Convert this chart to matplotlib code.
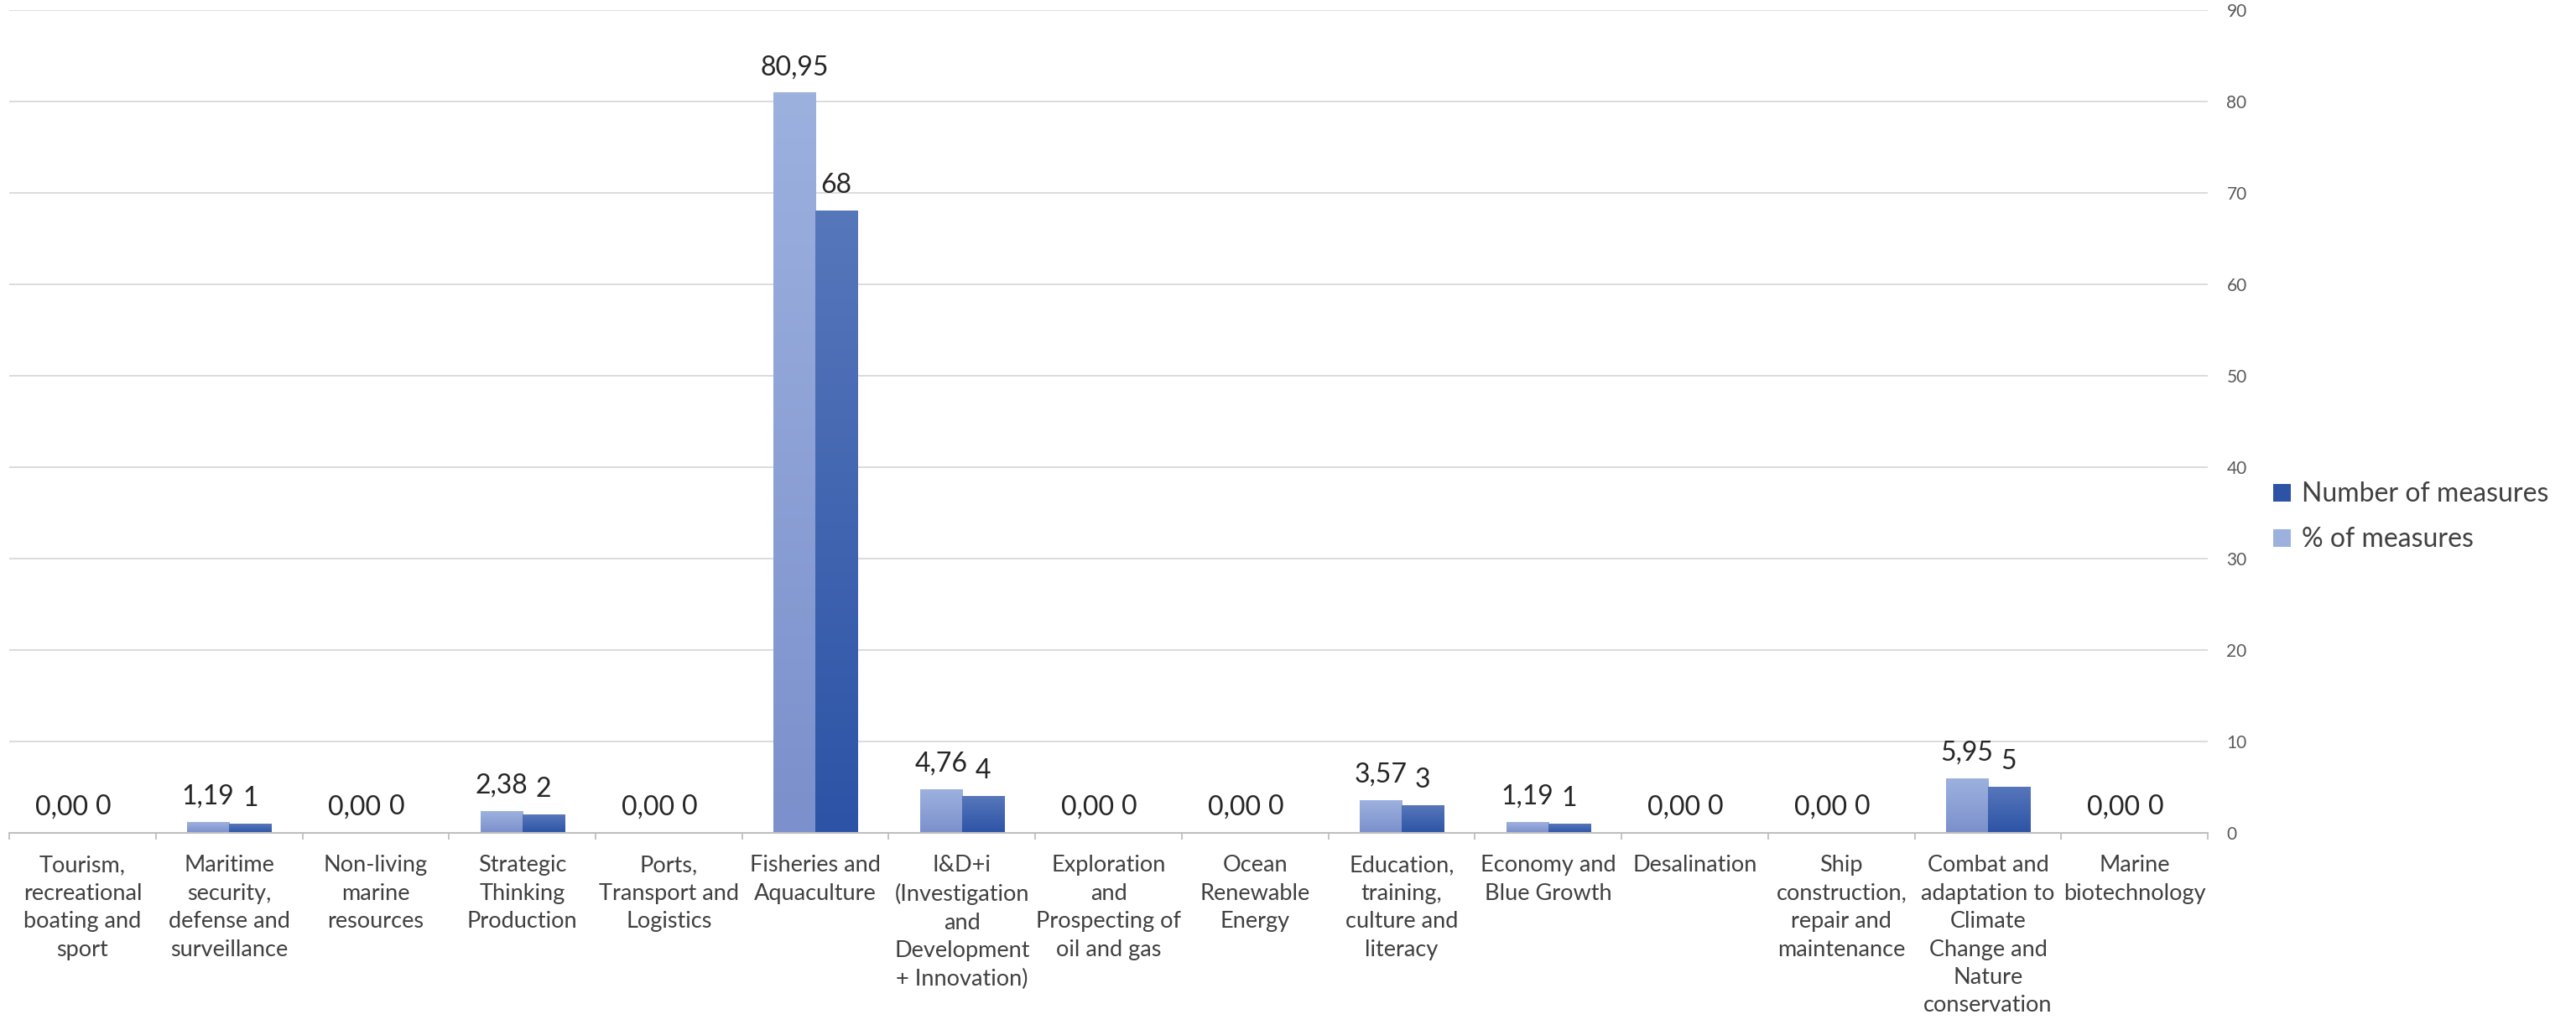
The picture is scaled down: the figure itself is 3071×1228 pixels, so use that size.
import numpy as np
import matplotlib
matplotlib.use("Agg")
import matplotlib.pyplot as plt
from matplotlib.patches import Patch
from matplotlib.colors import LinearSegmentedColormap

plt.rcParams['font.family'] = ['Lato', 'DejaVu Sans']

# data
categories = [
    "Tourism,\nrecreational\nboating and\nsport",
    "Maritime\nsecurity,\ndefense and\nsurveillance",
    "Non-living\nmarine\nresources",
    "Strategic\nThinking\nProduction",
    "Ports,\nTransport and\nLogistics",
    "Fisheries and\nAquaculture",
    "I&D+i\n(Investigation\nand\nDevelopment\n+ Innovation)",
    "Exploration\nand\nProspecting of\noil and gas",
    "Ocean\nRenewable\nEnergy",
    "Education,\ntraining,\nculture and\nliteracy",
    "Economy and\nBlue Growth",
    "Desalination",
    "Ship\nconstruction,\nrepair and\nmaintenance",
    "Combat and\nadaptation to\nClimate\nChange and\nNature\nconservation",
    "Marine\nbiotechnology",
]
pct_measures = [0.00, 1.19, 0.00, 2.38, 0.00, 80.95, 4.76, 0.00, 0.00, 3.57, 1.19, 0.00, 0.00, 5.95, 0.00]
num_measures = [0, 1, 0, 2, 0, 68, 4, 0, 0, 3, 1, 0, 0, 5, 0]
y_ticks = list(range(0, 100, 10))

light_top, light_bot = "#9db1df", "#7b90cc"
dark_top, dark_bot = "#5777bb", "#2c53a6"

fig = plt.figure(figsize=(30.71, 12.28), dpi=100)
ax = fig.add_axes([0.0036, 0.1914, 0.8535, 0.7988])

x = np.arange(len(categories))
w = 0.2865

bars_pct = ax.bar(x - w / 2, pct_measures, w, color=light_top, zorder=2)
bars_num = ax.bar(x + w / 2, num_measures, w, color=dark_top, zorder=2)


# vertical gradient fill for each bar, like the original
def gradient_fill(bars, top, bot):
    cmap = LinearSegmentedColormap.from_list("g", [bot, top])
    grad = np.linspace(0, 1, 256).reshape(-1, 1)
    for b in bars:
        h = b.get_height()
        if h <= 0:
            continue
        bx, bw = b.get_x(), b.get_width()
        ax.imshow(grad, cmap=cmap, aspect="auto", origin="lower",
                  extent=[bx, bx + bw, 0, h], zorder=2.5)
        b.set_facecolor("none")


gradient_fill(bars_pct, light_top, light_bot)
gradient_fill(bars_num, dark_top, dark_bot)

# data labels
for b, v in zip(bars_pct, pct_measures):
    ax.annotate(f"{v:.2f}".replace(".", ","), (b.get_x() + b.get_width() / 2, v),
                xytext=(0, 15.5), textcoords="offset points", ha="center",
                va="baseline", fontsize=23, color="#262626")
for b, v in zip(bars_num, num_measures):
    ax.annotate(f"{v}", (b.get_x() + b.get_width() / 2, v),
                xytext=(0, 15.5), textcoords="offset points", ha="center",
                va="baseline", fontsize=23, color="#262626")

ax.set_xlim(-0.5, len(categories) - 0.5)
ax.set_ylim(0, 90)

# y axis on the right, gridlines only
ax.yaxis.tick_right()
ax.set_yticks(y_ticks)
ax.tick_params(axis="y", length=0, pad=16, labelsize=15, labelcolor="#595959")
ax.grid(axis="y", color="#d9d9d9", linewidth=1.3, zorder=0)
ax.set_axisbelow(True)

# category labels centred, tick marks between categories
ax.set_xticks(x)
ax.set_xticklabels(categories, fontsize=19.5, color="#404040", linespacing=1.42)
ax.set_xticks(np.arange(-0.5, len(categories)), minor=True)
ax.tick_params(axis="x", which="major", length=0, pad=19)
ax.tick_params(axis="x", which="minor", length=6, width=1.3, color="#bfbfbf", direction="out")

for s in ["top", "left", "right"]:
    ax.spines[s].set_visible(False)
ax.spines["bottom"].set_color("#bfbfbf")
ax.spines["bottom"].set_linewidth(1.5)

handles = [Patch(facecolor=dark_bot, edgecolor="none"),
           Patch(facecolor=light_top, edgecolor="none")]
fig.legend(handles, ["Number of measures", "% of measures"],
           loc="center left", bbox_to_anchor=(0.8825, 0.498), frameon=False,
           fontsize=23, labelcolor="#404040", handlelength=0.65, handleheight=0.65,
           handletextpad=0.4, labelspacing=0.75, borderpad=0, borderaxespad=0)

fig.savefig("out.png", dpi=100)
